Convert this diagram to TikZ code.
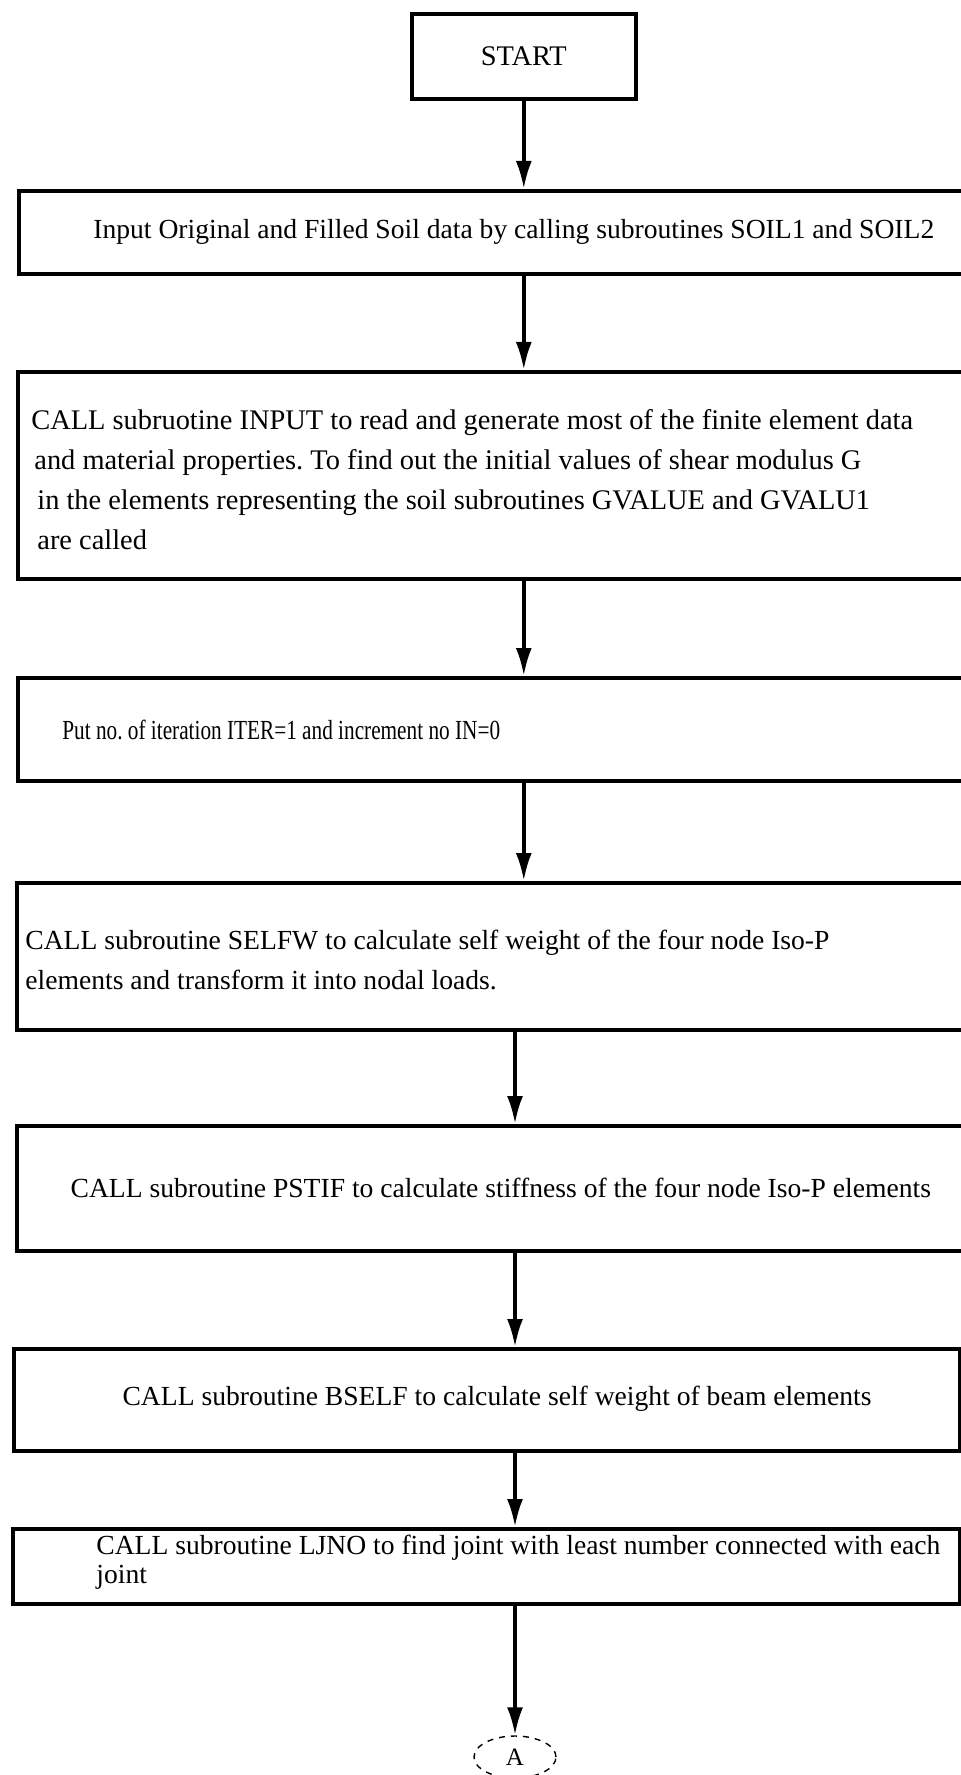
\documentclass[tikz,border=0pt]{standalone}
\usepackage{fontspec}
\setmainfont{Liberation Serif}
\newfontfamily\narrowserif[FakeStretch=0.77]{Liberation Serif}
\usetikzlibrary{arrows.meta,shapes.geometric}
\frenchspacing
\begin{document}
\begin{tikzpicture}[x=0.5pt, y=-0.5pt, >={Latex[length=14pt,width=8pt]},
  box/.style={draw, line width=1.8pt, inner sep=0pt, anchor=north west, font=\fontsize{13.8}{20}\selectfont},
  txt/.style={inner sep=0pt, align=left, anchor=west, font=\fontsize{13.8}{20}\selectfont},
  arr/.style={->, line width=1.8pt}]
\useasboundingbox (0,0) rectangle (960,1775);
\node[box, minimum width=112pt, minimum height=42.5pt, font=\fontsize{14.2}{16}\selectfont] (start) at (410,12) {START};
\node[box, minimum width=495pt, minimum height=41.5pt] (inp) at (17,189) {Input Original and Filled Soil data by calling subroutines SOIL1 and SOIL2};
\node[box, minimum width=492pt, minimum height=103.5pt] (call) at (16,370) {};
\node[box, minimum width=492pt, minimum height=51.5pt] (iter) at (16,676) {};
\node[box, minimum width=492.5pt, minimum height=73.5pt] (selfw) at (15,881) {};
\node[box, minimum width=484pt, minimum height=62.5pt] (pstif) at (15,1124) {CALL subroutine PSTIF to calculate stiffness of the four node Iso-P elements};
\node[box, minimum width=473pt, minimum height=51pt] (bself) at (12,1347) {};
\node[box, minimum width=473.5pt, minimum height=37.5pt] (ljno) at (11,1527) {};
\node[draw, ellipse, dashed, line width=0.7pt, inner sep=0pt, minimum width=41pt, minimum height=21pt, font=\fontsize{12.5}{12.5}\selectfont] (conA) at (515,1757) {A};

\node[txt, font=\fontsize{14.2}{20}\selectfont] (tcall) at (31,480) {CALL subruotine INPUT to read and generate most of the finite element data\\
\hspace*{1.5pt}and material properties. To find out the initial values of shear modulus G\\
\hspace*{3pt}in the elements representing the soil subroutines GVALUE and GVALU1\\
\hspace*{3pt}are called};
\node[txt, font=\narrowserif\fontsize{13.8}{20}\selectfont] (titer) at (62,730) {Put no. of iteration ITER=1 and increment no IN=0};
\node[txt] (tselfw) at (25,960) {CALL subroutine SELFW to calculate self weight of the four node Iso-P\\
elements and transform it into nodal loads.};
\node[txt, anchor=center] (tbself) at (497,1399) {CALL subroutine BSELF to calculate self weight of beam elements};
\node[txt, font=\fontsize{13.8}{14.5}\selectfont] (tljno) at (96,1562) {CALL subroutine LJNO to find joint with least number connected with each\\
joint};

\draw[arr] (start) -- (start |- inp.north);
\draw[arr] (start |- inp.south) -- (start |- call.north);
\draw[arr] (start |- call.south) -- (start |- iter.north);
\draw[arr] (start |- iter.south) -- (start |- selfw.north);
\draw[arr] (conA |- selfw.south) -- (conA |- pstif.north);
\draw[arr] (conA |- pstif.south) -- (conA |- bself.north);
\draw[arr] (conA |- bself.south) -- (conA |- ljno.north);
\draw[arr] (conA |- ljno.south) -- (conA);
\end{tikzpicture}
\end{document}
